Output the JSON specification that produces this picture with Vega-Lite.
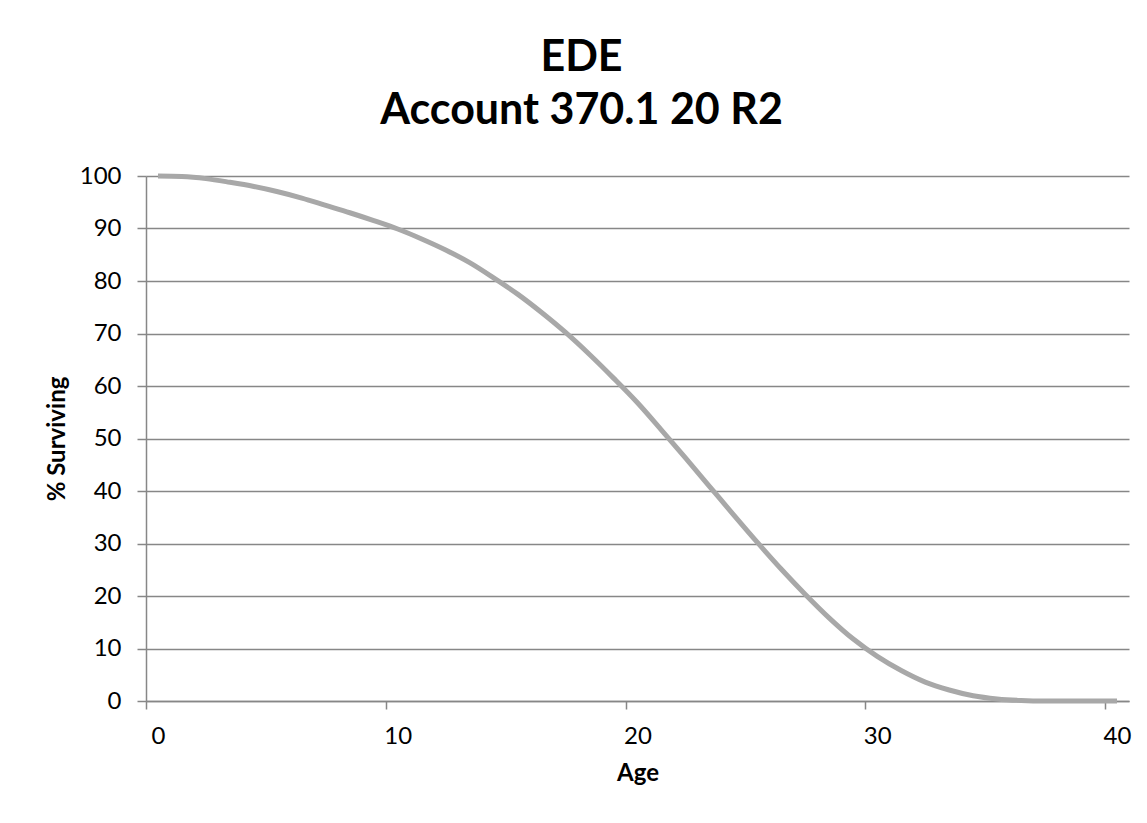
{
  "$schema": "https://vega.github.io/schema/vega-lite/v6.json",
  "autosize": {"type": "none"},
  "width": 983,
  "height": 525,
  "padding": {"left": 146, "top": 176, "right": 18, "bottom": 122},
  "background": "white",
  "title": {
    "text": ["EDE", "Account 370.1 20 R2"],
    "font": "Lato",
    "fontSize": 43,
    "fontWeight": "bold",
    "lineHeight": 53,
    "color": "black",
    "anchor": "middle",
    "dx": -56,
    "offset": 31
  },
  "data": {
    "values": [
      {"age": 0, "pct": 100},
      {"age": 1, "pct": 99.9},
      {"age": 2, "pct": 99.5},
      {"age": 3, "pct": 98.8},
      {"age": 4, "pct": 98.0},
      {"age": 5, "pct": 97.0},
      {"age": 6, "pct": 95.8},
      {"age": 7, "pct": 94.4},
      {"age": 8, "pct": 93.0},
      {"age": 9, "pct": 91.5},
      {"age": 10, "pct": 89.9},
      {"age": 11, "pct": 88.0},
      {"age": 12, "pct": 85.9},
      {"age": 13, "pct": 83.5},
      {"age": 14, "pct": 80.6},
      {"age": 15, "pct": 77.5},
      {"age": 16, "pct": 74.0},
      {"age": 17, "pct": 70.2},
      {"age": 18, "pct": 66.0},
      {"age": 19, "pct": 61.5},
      {"age": 20, "pct": 56.8},
      {"age": 21, "pct": 51.6},
      {"age": 22, "pct": 46.3},
      {"age": 23, "pct": 40.9},
      {"age": 24, "pct": 35.5},
      {"age": 25, "pct": 30.2},
      {"age": 26, "pct": 25.1},
      {"age": 27, "pct": 20.3},
      {"age": 28, "pct": 15.8},
      {"age": 29, "pct": 11.8},
      {"age": 30, "pct": 8.5},
      {"age": 31, "pct": 5.8},
      {"age": 32, "pct": 3.6},
      {"age": 33, "pct": 2.1},
      {"age": 34, "pct": 1.0},
      {"age": 35, "pct": 0.4},
      {"age": 36, "pct": 0.1},
      {"age": 37, "pct": 0},
      {"age": 38, "pct": 0},
      {"age": 39, "pct": 0},
      {"age": 40, "pct": 0}
    ]
  },
  "mark": {"type": "line", "color": "#a8a8a8", "strokeWidth": 5, "interpolate": "monotone"},
  "encoding": {
    "x": {
      "field": "age",
      "type": "quantitative",
      "scale": {"domain": [-0.5, 40.5], "nice": false, "zero": false},
      "axis": {
        "title": "Age",
        "values": [0, 10, 20, 30, 40],
        "grid": false,
        "tickOffset": -12,
        "labelOffset": 12,
        "tickSize": 8,
        "tickColor": "#878787",
        "domainColor": "#878787",
        "labelPadding": 15,
        "titlePadding": 13,
        "labelFlush": false
      }
    },
    "y": {
      "field": "pct",
      "type": "quantitative",
      "scale": {"domain": [0, 100], "nice": false},
      "axis": {
        "title": "% Surviving",
        "values": [0, 10, 20, 30, 40, 50, 60, 70, 80, 90, 100],
        "grid": true,
        "gridColor": "#878787",
        "gridOpacity": 1,
        "tickSize": 9,
        "tickColor": "#878787",
        "domainColor": "#878787",
        "labelPadding": 16,
        "titlePadding": 10
      }
    }
  },
  "config": {
    "view": {"stroke": null},
    "axis": {
      "labelFont": "Lato",
      "labelFontSize": 24,
      "labelColor": "black",
      "titleFont": "Lato",
      "titleFontSize": 24,
      "titleFontWeight": "bold",
      "titleColor": "black",
      "domainWidth": 1.5,
      "tickWidth": 1.5,
      "gridWidth": 1.5
    }
  }
}
